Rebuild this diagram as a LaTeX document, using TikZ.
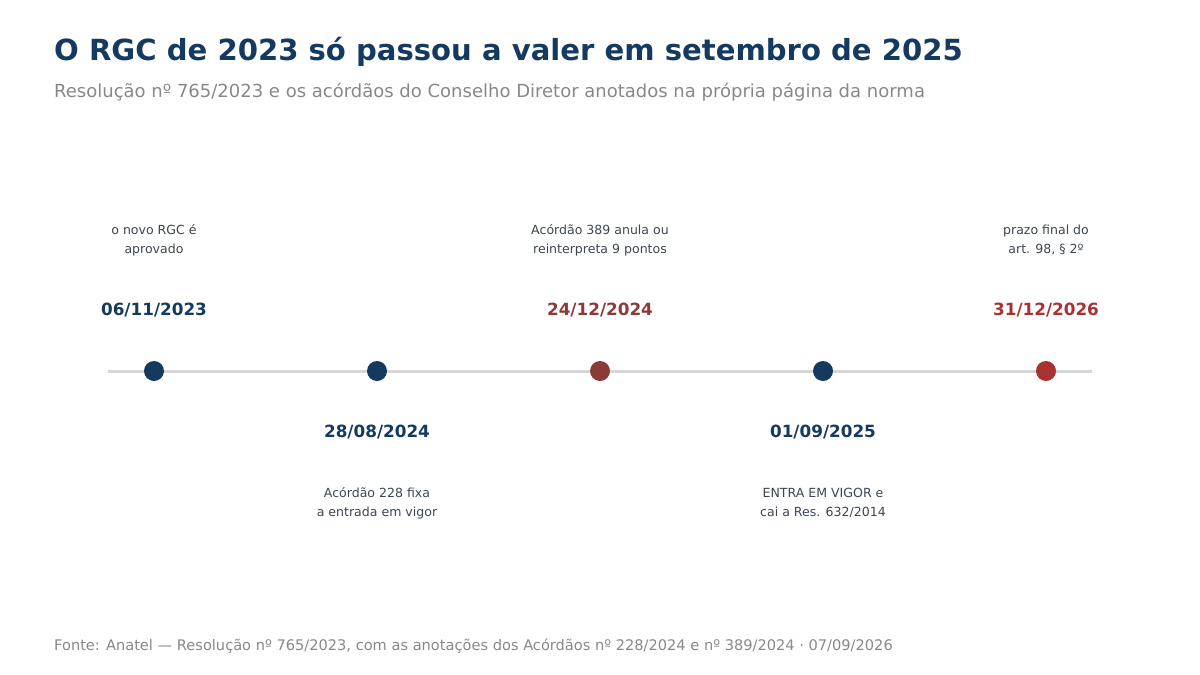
\documentclass[tikz,border=0pt]{standalone}
\usepackage{fontspec}
\setmainfont{DejaVu Sans}
\definecolor{navy}{HTML}{143A60}
\definecolor{rust}{HTML}{8B3A3A}
\definecolor{brick}{HTML}{A83232}
\definecolor{note}{HTML}{3D4650}
\definecolor{muted}{HTML}{888888}
\definecolor{axis}{HTML}{D6D6D6}

\begin{document}
\begin{tikzpicture}[x=1pt,y=-1pt,
    dot/.style={circle,inner sep=0pt,minimum size=20pt},
    datelbl/.style={font=\bfseries\fontsize{16.8}{20}\selectfont},
    notelbl/.style={align=center,text=note,font=\fontsize{12.55}{19}\selectfont}]
      \useasboundingbox (0,0) rectangle (1200,675);
      \node [anchor=west,inner sep=0pt,text=navy,font=\bfseries\fontsize{29.1}{34}\selectfont] (title) at (54,52) {O RGC de 2023 só passou a valer em setembro de 2025};
      \node [anchor=west,inner sep=0pt,text=muted,font=\fontsize{18}{22}\selectfont] (subtitle) at (54,92) {Resolução nº 765/2023 e os acórdãos do Conselho Diretor anotados na própria página da norma};
      % axis
      \coordinate (start) at (108,371);
      \coordinate (end) at (1092,371);
      \draw [axis,line width=3pt] (start) -- (end);
      % events above
      \node [dot,fill=navy] (d1) at (154,371) {};
      \node [datelbl,text=navy] (t1) at (154,310) {06/11/2023};
      \node [notelbl] (n1) at (154,240) {o novo RGC é\\aprovado};
      \node [dot,fill=rust] (d3) at (600,371) {};
      \node [datelbl,text=rust] (t3) at (600,310) {24/12/2024};
      \node [notelbl] (n3) at (600,240) {Acórdão 389 anula ou\\reinterpreta 9 pontos};
      \node [dot,fill=brick] (d5) at (1046,371) {};
      \node [datelbl,text=brick] (t5) at (1046,310) {31/12/2026};
      \node [notelbl] (n5) at (1046,240) {prazo final do\\art. 98, § 2º};
      % events below
      \node [dot,fill=navy] (d2) at (377,371) {};
      \node [datelbl,text=navy] (t2) at (377,432) {28/08/2024};
      \node [notelbl] (n2) at (377,503) {Acórdão 228 fixa\\a entrada em vigor};
      \node [dot,fill=navy] (d4) at (823,371) {};
      \node [datelbl,text=navy] (t4) at (823,432) {01/09/2025};
      \node [notelbl] (n4) at (823,503) {ENTRA EM VIGOR e\\cai a Res. 632/2014};
      \node [anchor=west,inner sep=0pt,text=muted,font=\fontsize{14.6}{17}\selectfont] (source) at (54,646) {Fonte: Anatel — Resolução nº 765/2023, com as anotações dos Acórdãos nº 228/2024 e nº 389/2024 · 07/09/2026};
\end{tikzpicture}
\end{document}
